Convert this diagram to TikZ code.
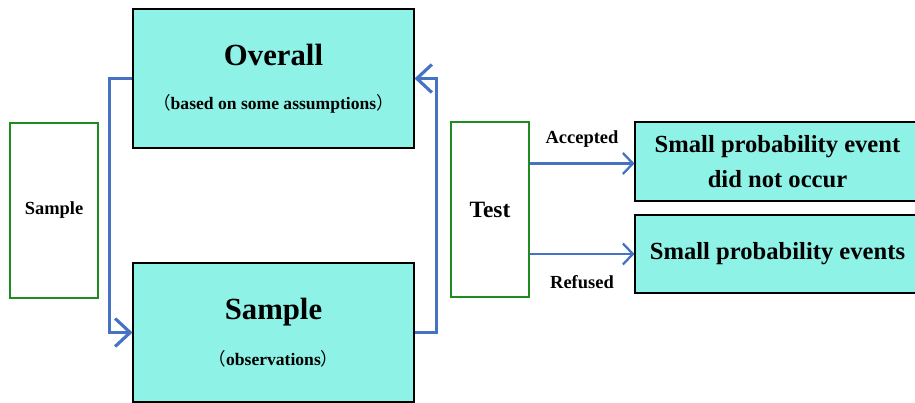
\documentclass[tikz,border=0pt]{standalone}
\usepackage{fontspec}
\setmainfont{Liberation Serif}
\newfontfamily\cjk{Noto Sans CJK SC}
\usetikzlibrary{arrows.meta,positioning}

\definecolor{boxfill}{RGB}{142,242,230}
\definecolor{boxgreen}{RGB}{30,140,30}
\definecolor{flowblue}{RGB}{70,114,196}

\begin{document}
\begin{tikzpicture}[
	bigbox/.style={draw=black,line width=0.6pt,fill=boxfill,minimum width=5.62cm,minimum height=2.78cm,align=center,inner sep=0pt},
	sidebox/.style={draw=boxgreen,line width=0.6pt,fill=white,minimum width=1.6cm,minimum height=3.5cm,inner sep=0pt},
	resbox/.style={draw=black,line width=0.6pt,fill=boxfill,minimum width=5.7cm,inner sep=0pt,align=center,font=\fontsize{14}{17}\selectfont\bfseries},
	loop/.style={draw=flowblue,line width=1.8pt,-{Straight Barb[length=0.3cm,width=0.56cm,line width=1.8pt]}},
	decide/.style={draw=flowblue,line width=1.3pt,-{Straight Barb[length=0.2cm,width=0.42cm,line width=1.3pt]}},
	tag/.style={font=\fontsize{10.5}{12}\selectfont\bfseries,inner sep=0pt}]
	\useasboundingbox (0,0) rectangle (18.3,8.06);

	% population and sample
	\node[bigbox] (overall) at (5.47,6.49) {{\fontsize{17.5}{20}\selectfont\bfseries Overall}\\[13pt]
		{\fontsize{10}{12}\selectfont\bfseries{\cjk\mdseries （}based on some assumptions{\cjk\mdseries ）}}};
	\node[bigbox] (sample) at (5.47,1.41) {{\fontsize{17.5}{20}\selectfont\bfseries Sample}\\[13pt]
		{\fontsize{10}{12}\selectfont\bfseries{\cjk\mdseries （}observations{\cjk\mdseries ）}}};

	% side boxes
	\node[sidebox,minimum width=1.76cm] (side) at (1.08,3.85) {\fontsize{10.5}{12}\selectfont\bfseries Sample};
	\node[sidebox,minimum width=1.56cm] (test) at (9.8,3.87) {\fontsize{13.3}{15}\selectfont\bfseries Test};

	% outcomes
	\node[resbox,minimum height=1.58cm] (occur) at (15.55,4.83) {Small probability event\\[3pt]did not occur};
	\node[resbox,minimum height=1.56cm] (events) at (15.55,2.98) {Small probability events};

	% loops
	\draw[loop] (overall.west) -- ++(-0.46,0) |- (sample.west);
	\draw[loop] (sample.east) -- ++(0.44,0) |- (overall.east);

	% decisions
	\draw[decide] ([yshift=-0.04cm]test.east |- occur.west) -- node[tag,above=0.3cm] (acc) {Accepted} ([yshift=-0.04cm]occur.west);
	\draw[decide] (test.east |- events.west) -- node[tag,below=0.4cm] (ref) {Refused} (events.west);
\end{tikzpicture}
\end{document}
